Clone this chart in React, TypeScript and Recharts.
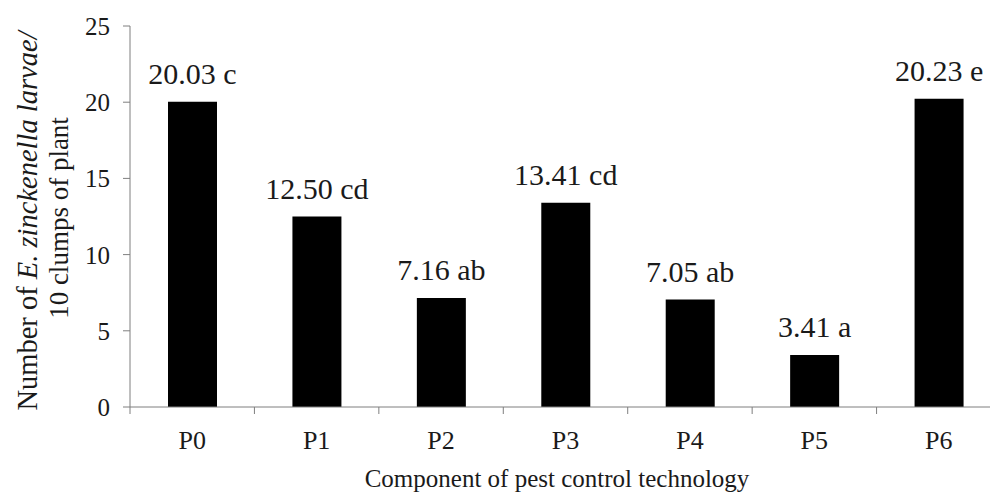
import React from 'react';
import { BarChart, Bar, XAxis, YAxis, LabelList, Label } from 'recharts';

const categories = ['P0', 'P1', 'P2', 'P3', 'P4', 'P5', 'P6'];
const larvaeCounts = [20.03, 12.5, 7.16, 13.41, 7.05, 3.41, 20.23];
const significanceLetters = ['c', 'cd', 'ab', 'cd', 'ab', 'a', 'e'];
const yTicks = [0, 5, 10, 15, 20, 25];

const data = categories.map((name, i) => ({
  name,
  value: larvaeCounts[i],
  label: `${larvaeCounts[i].toFixed(2)} ${significanceLetters[i]}`,
}));

const W = 990;
const H = 495;
const LEFT = 130;
const RIGHT = -11;
const TOP = 26;
const XAXIS_H = 88;
const PLOT_BOTTOM = H - XAXIS_H;
const BAND = (W - LEFT - RIGHT) / categories.length;
const FONT = '"Liberation Serif", "Times New Roman", serif';
const AXIS = '#7f7f7f';
const TEXT = '#1a1a1a';

const XTick = (props: any) => {
  const { x, payload } = props;
  return (
    <g>
      <line x1={x - BAND / 2} x2={x - BAND / 2} y1={PLOT_BOTTOM} y2={PLOT_BOTTOM + 7} stroke={AXIS} strokeWidth={1} />
      <text x={x} y={PLOT_BOTTOM + 42} textAnchor="middle" fontFamily={FONT} fontSize={26} fill={TEXT}>
        {payload.value}
      </text>
    </g>
  );
};

const YTick = (props: any) => {
  const { x, y, payload } = props;
  return (
    <text x={x} y={y + 9} textAnchor="end" fontFamily={FONT} fontSize={25} fill={TEXT}>
      {payload.value}
    </text>
  );
};

const BarLabel = (props: any) => {
  const { x, y, width, value } = props;
  return (
    <text x={x + width / 2} y={y - 18} textAnchor="middle" fontFamily={FONT} fontSize={30} fill={TEXT}>
      {value}
    </text>
  );
};

const YTitle = () => (
  <g fontFamily={FONT} fill={TEXT}>
    <text x={37} y={221} textAnchor="middle" fontSize={28.5} transform="rotate(-90, 37, 221)">
      Number of <tspan fontStyle="italic">E. zinckenella larvae/</tspan>
    </text>
    <text x={68} y={218} textAnchor="middle" fontSize={27} transform="rotate(-90, 68, 218)">
      10 clumps of plant
    </text>
  </g>
);

const XTitle = () => (
  <text x={557} y={487} textAnchor="middle" fontFamily={FONT} fontSize={25} fill={TEXT}>
    Component of pest control technology
  </text>
);

export default function App() {
  return (
    <div style={{ position: 'absolute', left: 0, top: 0, background: '#fff' }}>
      <BarChart width={W} height={H} data={data} margin={{ top: TOP, right: RIGHT, bottom: 0, left: 0 }}>
        <XAxis
          dataKey="name"
          height={XAXIS_H}
          tick={<XTick />}
          tickLine={false}
          axisLine={{ stroke: AXIS, strokeWidth: 1 }}
          interval={0}
        >
          <Label content={<XTitle />} />
        </XAxis>
        <YAxis
          width={LEFT}
          domain={[0, 25]}
          ticks={yTicks}
          interval={0}
          tickSize={7}
          tickMargin={13}
          axisLine={{ stroke: AXIS, strokeWidth: 1 }}
          tickLine={{ stroke: AXIS, strokeWidth: 1 }}
          tick={<YTick />}
        >
          <Label content={<YTitle />} />
        </YAxis>
        <Bar dataKey="value" fill="#000" barSize={49} isAnimationActive={false}>
          <LabelList dataKey="label" content={<BarLabel />} />
        </Bar>
      </BarChart>
    </div>
  );
}
